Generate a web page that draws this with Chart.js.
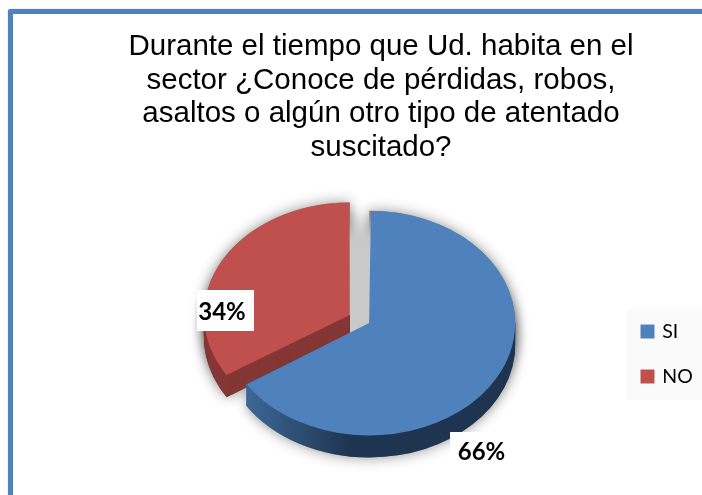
<!DOCTYPE html>
<html>
<head>
<meta charset="utf-8">
<title>Conoce de pérdidas</title>
<script src="https://cdn.jsdelivr.net/npm/chart.js@4"></script>
<style>
    html, body { margin: 0; padding: 0; background: white; overflow: hidden; }
    #wrap { position: relative; width: 702px; height: 495px; overflow: hidden; }
    #marco { position: absolute; left: 8px; top: 9px; width: 720px; height: 520px; border: 5px solid #4f81bd; box-sizing: border-box; border-radius: 2px; box-shadow: 0 0 1px #4f81bd; }
    #myChart { position: absolute; left: 0; top: 0; }
</style>
</head>
<body>
<div id="wrap">
    <div id="marco"></div>
    <canvas id="myChart" width="702" height="495"></canvas>
</div>
<script>
const titulo = [
    'Durante el tiempo que Ud. habita en el',
    'sector ¿Conoce de pérdidas, robos,',
    'asaltos o algún otro tipo de atentado',
    'suscitado?'
];
const categorias = ['SI', 'NO'];
const valores = [66, 34];
const cores = ['#4f81bd', '#c0504d'];

// centro de la torta en pantalla, radio, aplastado y profundidad
const centroX = 359.5;
const centroY = 319;
const radio = 146;
const aplaste = 0.77;
const profundidad = 22;

// cajas blancas de las etiquetas: x, y, ancho, alto y centro del texto
const cajas = [
    { x: 450, y: 432, w: 62, h: 40, tx: 481.5, ty: 452 },
    { x: 197, y: 290, w: 57, h: 41, tx: 222, ty: 312 }
];

function inclinar(ctx, arc, dy) {
    ctx.translate(centroX, centroY + dy);
    ctx.scale(1, aplaste);
    ctx.translate(-arc.x, -arc.y);
}

function trazar(ctx, arc) {
    const medio = (arc.startAngle + arc.endAngle) / 2;
    const d = arc.options.offset / 4;
    const ox = arc.x + Math.cos(medio) * d;
    const oy = arc.y + Math.sin(medio) * d;
    ctx.beginPath();
    ctx.moveTo(ox, oy);
    ctx.arc(ox, oy, radio, arc.startAngle, arc.endAngle);
    ctx.closePath();
}

const torta3d = {
    id: 'torta3d',
    afterDatasetsUpdate(chart) {
        // Chart.js agranda cada arco segun su angulo al separarlo, aca quedan iguales
        chart.getDatasetMeta(0).data.forEach(function (arc) {
            const d = arc.options.offset / 4;
            const fix = 1 - Math.sin(Math.min(Math.PI, arc.circumference));
            arc.outerRadius = radio - d * fix;
        });
    },
    beforeDatasetDraw(chart, args) {
        const ctx = chart.ctx;
        const arcos = args.meta.data;
        const desplX = centroX - arcos[0].x;

        // sombra debajo de las dos porciones
        arcos.forEach(function (arc) {
            [0, profundidad / 2, profundidad].forEach(function (dy) {
                ctx.save();
                ctx.shadowColor = 'rgba(0,0,0,0.42)';
                ctx.shadowBlur = 14;
                ctx.fillStyle = '#808080';
                inclinar(ctx, arc, dy);
                trazar(ctx, arc);
                ctx.fill();
                ctx.restore();
            });
        });

        // fondo gris entre las porciones: solo la sombra del disco, que se dibuja fuera de la pantalla
        ctx.save();
        ctx.shadowColor = '#c9c9c9';
        ctx.shadowBlur = 20;
        ctx.shadowOffsetX = 2000;
        ctx.fillStyle = '#c9c9c9';
        inclinar(ctx, arcos[0], 10);
        ctx.beginPath();
        ctx.arc(arcos[0].x - 2000, arcos[0].y, radio - 8, 0, Math.PI * 2);
        ctx.fill();
        ctx.restore();

        // costados, primero NO que queda atrás
        const gradAzul = ctx.createLinearGradient(247 - desplX, 0, 350 - desplX, 0);
        gradAzul.addColorStop(0, '#3c6796');
        gradAzul.addColorStop(1, '#1f3450');
        const lados = [gradAzul, '#843735'];
        [1, 0].forEach(function (i) {
            const arc = arcos[i];
            const medio = (arc.startAngle + arc.endAngle) / 2;
            const vertice = centroY + Math.sin(medio) * arc.options.offset / 4 * aplaste;
            ctx.save();
            // solo debajo del vertice, arriba el costado no se ve
            ctx.beginPath();
            ctx.rect(0, vertice, chart.width, chart.height - vertice);
            ctx.clip();
            for (let dy = profundidad; dy > 0; dy--) {
                ctx.save();
                ctx.fillStyle = lados[i];
                inclinar(ctx, arc, dy);
                trazar(ctx, arc);
                ctx.fill();
                ctx.restore();
            }
            ctx.restore();
        });

        ctx.save();
        inclinar(ctx, arcos[0], 0);
    },
    afterDatasetDraw(chart) {
        chart.ctx.restore();
    },
    afterLayout(chart) {
        // la leyenda va a la derecha, abajo del centro
        const leyenda = chart.legend;
        const alto = leyenda.bottom - leyenda.top;
        leyenda.left = 617;
        leyenda.right = 702;
        leyenda.top = 354 - alto / 2;
        leyenda.bottom = leyenda.top + alto;
    },
    beforeDraw(chart) {
        const ctx = chart.ctx;
        ctx.save();
        ctx.fillStyle = '#fafafa';
        ctx.fillRect(627, 309, 75, 91);
        ctx.restore();
    },
    afterDraw(chart) {
        const ctx = chart.ctx;
        ctx.save();
        ctx.font = 'bold 24px Lato';
        ctx.textAlign = 'center';
        ctx.textBaseline = 'middle';
        valores.forEach(function (v, i) {
            const c = cajas[i];
            ctx.fillStyle = 'white';
            ctx.fillRect(c.x, c.y, c.w, c.h);
            ctx.fillStyle = 'black';
            ctx.fillText(v + '%', c.tx, c.ty);
        });
        ctx.restore();
    }
};

const data = {
    labels: categorias,
    datasets: [{
        data: valores,
        backgroundColor: cores,
        borderWidth: 0,
        offset: 44,
        clip: false
    }]
};

const config = {
    type: 'pie',
    data: data,
    options: {
        responsive: false,
        animation: false,
        radius: radio,
        layout: {
            padding: { left: 60, top: 18 }
        },
        plugins: {
            title: {
                display: true,
                text: titulo,
                color: 'black',
                font: { family: '"Liberation Sans"', size: 29.5, weight: 'normal', lineHeight: 1.14 },
                padding: { top: 12, bottom: 10 }
            },
            legend: {
                display: true,
                position: 'right',
                labels: {
                    color: 'black',
                    font: { family: 'Lato', size: 19.5 },
                    boxWidth: 10,
                    boxHeight: 10,
                    padding: 25.5,
                    generateLabels: function (chart) {
                        return Chart.overrides.pie.plugins.legend.labels.generateLabels(chart).map(function (item) {
                            item.lineWidth = 4;
                            item.strokeStyle = item.fillStyle;
                            return item;
                        });
                    }
                }
            },
            tooltip: { enabled: false }
        }
    },
    plugins: [torta3d]
};

const myChart = new Chart(document.getElementById('myChart'), config);
</script>
</body>
</html>
